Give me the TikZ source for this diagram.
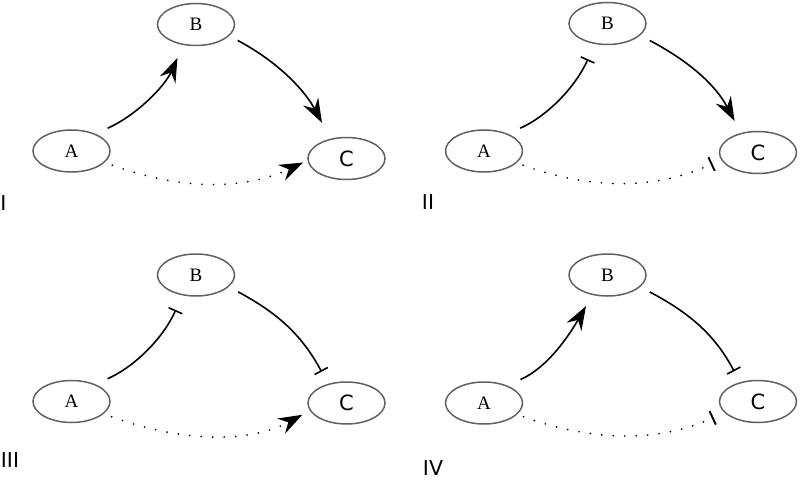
\documentclass[tikz,border=0pt]{standalone}
\usepackage{fontspec}
\setmainfont{Liberation Serif}
\newfontfamily\labfont{DejaVu Sans}
\usetikzlibrary{arrows.meta,shapes.geometric}
\begin{document}
\begin{tikzpicture}[x=1pt,y=1pt,
  ell/.style={ellipse, draw=black!62, line width=1.5pt, minimum width=77pt, minimum height=42pt, inner sep=0pt, font=\fontsize{19}{19}\selectfont},
  ellc/.style={ell, font=\labfont\fontsize{21}{21}\selectfont},
  edge/.style={line width=1.6pt, draw=black},
  act/.style={edge, -{Stealth[length=24pt,width=17pt,inset=8pt]}},
  inh/.style={edge, -{Bar[width=15pt]}},
  dotline/.style={dash pattern=on 0pt off 11.5pt, line cap=round, line width=1.9pt},
  plab/.style={font=\labfont\fontsize{20.5}{20.5}\selectfont, inner sep=0pt}
]
\useasboundingbox (0,0) rectangle (800,480);

% Panel I
\node[ell]  (A1) at (71.5,329) {A};
\node[ell]  (B1) at (196,455.5) {B};
\node[ellc] (C1) at (346.5,321.5) {C};
\node[plab] (L1) at (3.5,277) {I};
\draw[act, shorten <=13.5pt, shorten >=14pt] (A1.36) .. controls +(24:45) and +(246:45) .. (B1.238);
\draw[act, shorten <=9.5pt, shorten >=18pt] (B1.-19) .. controls +(-28:55) and +(118:55) .. (C1.129);
\draw[act, dotline, shorten <=8pt, shorten >=4.6pt] (A1.-19) .. controls +(-20:75) and +(205:75) .. (C1.183);

% Panel II
\node[ell]  (A2) at (484,329) {A};
\node[ell]  (B2) at (607.5,456.5) {B};
\node[ellc] (C2) at (758,327.5) {C};
\node[plab] (L2) at (428,277.5) {II};
\draw[inh, shorten <=13.5pt, shorten >=16.6pt] (A2.36) .. controls +(24:45) and +(246:45) .. (B2.238);
\draw[act, shorten <=10.7pt, shorten >=13.6pt] (B2.-20) .. controls +(-28:55) and +(118:55) .. (C2.131);
\draw[inh, dotline, shorten <=6.7pt, shorten >=9.4pt] (A2.-20) .. controls +(-20:75) and +(205:75) .. (C2.191);

% Panel III
\node[ell]  (A3) at (71.5,78.5) {A};
\node[ell]  (B3) at (196,205) {B};
\node[ellc] (C3) at (346.5,77) {C};
\node[plab] (L3) at (10,20) {III};
\draw[inh, shorten <=13.4pt, shorten >=16pt] (A3.36) .. controls +(24:45) and +(246:45) .. (B3.236);
\draw[inh, shorten <=10.4pt, shorten >=13.7pt] (B3.-20) .. controls +(-28:55) and +(118:55) .. (C3.134);
\draw[act, dotline, shorten <=8.4pt, shorten >=8.5pt] (A3.-21) .. controls +(-20:75) and +(208:75) .. (C3.192);

% Panel IV
\node[ell]  (A4) at (484,77) {A};
\node[ell]  (B4) at (607.5,205) {B};
\node[ellc] (C4) at (758,78.5) {C};
\node[plab] (L4) at (433,12) {IV};
\draw[act, shorten <=14.5pt, shorten >=12.7pt] (A4.37) .. controls +(24:45) and +(240:45) .. (B4.233);
\draw[inh, shorten <=10.7pt, shorten >=12.4pt] (B4.-20) .. controls +(-28:55) and +(118:55) .. (C4.133);
\draw[inh, dotline, shorten <=6.6pt, shorten >=11.7pt] (A4.-19) .. controls +(-20:75) and +(205:75) .. (C4.198);
\end{tikzpicture}
\end{document}
